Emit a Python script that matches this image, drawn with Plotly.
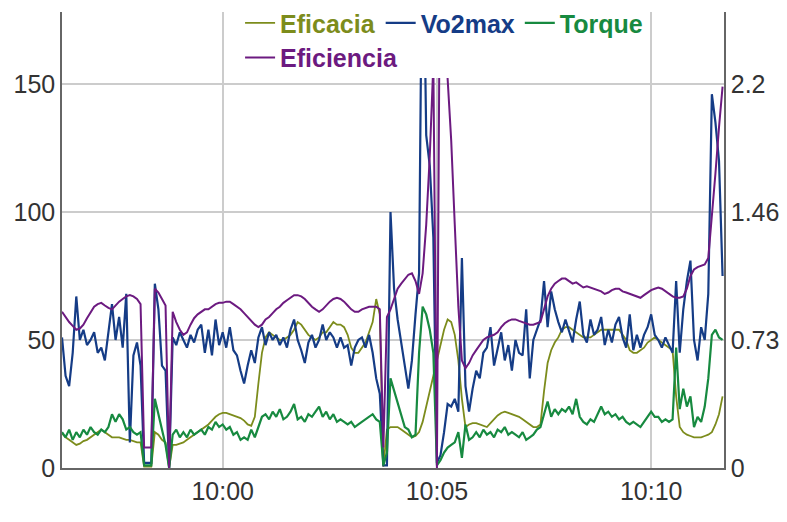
import pandas as pd
import plotly.graph_objects as go

# time axis: one sample every 5 seconds from 09:56:15
start_time = "2024-01-01 09:56:15"
n_points = 186
times = pd.date_range(start_time, periods=n_points, freq="5s")

eficacia = [
    13.5, 12, 11, 10, 9, 9.5, 10.5, 11, 12, 13,
    14, 15, 14, 13, 12, 12, 12, 11.5, 11, 11,
    10.5, 10, 10, 0.5, 0.5, 0.5, 14, 13, 11, 10,
    0, 9, 9, 9.5, 10, 11, 12, 13, 14, 15,
    16, 17, 18.5, 20, 21, 21.5, 21.5, 21, 20.5, 20,
    19.5, 18.5, 17, 16.5, 20, 33, 45, 51, 53, 52,
    51, 50, 50, 51, 52, 54, 57, 56, 54, 52,
    51, 50, 51, 53, 53, 55, 57, 56, 56, 55,
    52, 47, 45, 45, 47, 49, 53, 57, 66, 60,
    0.5, 15, 16, 16, 16, 15, 14, 13, 12, 12.5,
    14, 18, 24, 30, 36, 42, 48, 54, 58, 57,
    52, 42, 27, 16, 17, 17.5, 17.5, 17, 16.5, 16,
    17.5, 19, 20.5, 21.5, 22, 21.5, 21, 20.5, 20, 19,
    18, 17, 16, 16, 17, 30, 41, 46, 49, 51,
    54, 55, 55, 54, 53, 52, 51, 51, 51, 52,
    53, 54, 54, 54, 54, 54, 54, 52, 50, 46,
    45, 45, 46, 47, 49, 50, 51, 50, 49, 48,
    47, 46, 28, 16, 14, 13, 12.5, 12, 12, 12,
    12.5, 13, 14, 17, 21, 28,
]

vo2max = [
    51, 36, 32, 45, 67, 50, 54, 48, 50, 53,
    45, 47, 42, 52, 64, 50, 59, 47, 68, 10,
    44, 49, 40, 2, 2, 2, 72, 62, 40, 38,
    0, 51, 48, 53, 50, 47, 52, 49, 54, 56,
    45, 54, 44, 58, 48, 53, 47, 55, 46, 44,
    38, 33, 40, 46, 41, 51, 55, 48, 53, 50,
    52, 48, 51, 47, 54, 58, 50, 46, 41, 49,
    52, 47, 50, 56, 50, 53, 51, 47, 51, 47,
    48, 40, 47, 50, 51, 47, 52, 45, 35, 29,
    1, 1, 100, 70, 58, 48, 40, 31, 42, 60,
    76, 230, 130, 118, 90, 2, 5, 14, 25, 24,
    27, 22, 82, 32, 22, 31, 38, 35, 45, 47,
    55, 40, 46, 53, 42, 48, 38, 50, 45, 44,
    62, 35, 50, 54, 58, 73, 55, 69, 62, 57,
    53, 58, 53, 49, 58, 65, 52, 49, 58, 52,
    54, 59, 48, 54, 49, 56, 59, 51, 47, 60,
    46, 52, 47, 52, 55, 60, 52, 50, 47, 51,
    48, 45, 73, 45, 62, 73, 81, 50, 42, 55,
    50, 68, 146, 135, 120, 75,
]

torque = [
    14, 12, 15, 11, 14, 12, 15, 13, 16, 14,
    13, 15, 14, 16, 21, 18, 21, 19, 15, 16,
    14, 13, 14, 1, 1, 1, 27, 21, 16, 9,
    0, 13, 15, 12, 14, 12, 15, 13, 14, 15,
    13, 16, 15, 18, 16, 17, 15, 16, 13, 14,
    11, 12, 11, 15, 12, 16, 20, 21, 19, 22,
    20, 23, 19, 20, 22, 25, 19, 20, 18, 21,
    20, 22, 24, 20, 22, 19, 21, 18, 19, 18,
    17, 18, 16, 17, 18, 19, 20, 21, 19, 18,
    1, 6, 35, 30, 25, 20, 16, 15, 12, 13,
    45, 63, 60, 54, 45, 1, 3, 6, 8, 9,
    10, 14, 4, 17, 11, 12, 14, 12, 15, 13,
    14, 12, 15, 14, 16, 13, 14, 13, 12, 14,
    11, 12, 13, 15, 16, 21, 26, 20, 23, 21,
    23, 22, 24, 21, 27, 20, 18, 17, 19, 18,
    21, 24, 21, 22, 20, 21, 19, 20, 18, 17,
    18, 17, 16, 18, 20, 22, 20, 20, 18, 19,
    18, 19, 47, 23, 31, 24, 28, 16, 20, 18,
    24, 35, 52, 54, 51, 50,
]

eficiencia = [
    0.895, 0.865, 0.836, 0.814, 0.792, 0.799, 0.821, 0.858, 0.895, 0.924,
    0.939, 0.946, 0.931, 0.917, 0.909, 0.931, 0.953, 0.968, 0.983, 0.990,
    0.983, 0.968, 0.939, 0.117, 0.117, 0.117, 1.027, 1.005, 0.968, 0.931,
    0, 0.895, 0.836, 0.792, 0.763, 0.777, 0.821, 0.858, 0.880, 0.895,
    0.909, 0.909, 0.924, 0.939, 0.946, 0.946, 0.953, 0.953, 0.939, 0.924,
    0.909, 0.887, 0.865, 0.843, 0.821, 0.807, 0.821, 0.851, 0.865, 0.887,
    0.909, 0.924, 0.946, 0.961, 0.975, 0.990, 0.990, 0.983, 0.968, 0.946,
    0.924, 0.909, 0.895, 0.909, 0.931, 0.953, 0.968, 0.975, 0.968, 0.953,
    0.931, 0.909, 0.895, 0.895, 0.909, 0.917, 0.924, 0.924, 0.924, 0.909,
    0.117, 0.865, 0.909, 0.968, 1.027, 1.056, 1.085, 1.107, 1.115, 1.071,
    0.997, 1.115, 1.393, 1.789, 2.317, 0, 3.52, 2.787, 2.229, 1.877,
    1.393, 0.924, 0.616, 0.572, 0.601, 0.645, 0.675, 0.704, 0.733, 0.748,
    0.755, 0.763, 0.777, 0.807, 0.829, 0.843, 0.851, 0.851, 0.843, 0.836,
    0.829, 0.821, 0.821, 0.829, 0.836, 0.909, 0.983, 1.027, 1.056, 1.071,
    1.085, 1.085, 1.071, 1.056, 1.063, 1.049, 1.034, 1.041, 1.034, 1.027,
    1.019, 1.012, 0.997, 1.005, 1.019, 1.027, 1.027, 1.012, 1.005, 0.997,
    0.990, 0.983, 0.975, 0.990, 1.005, 1.019, 1.027, 1.034, 1.027, 1.012,
    0.997, 0.983, 0.975, 0.975, 0.983, 1.027, 1.100, 1.137, 1.151, 1.159,
    1.166, 1.203, 1.423, 1.687, 1.951, 2.185,
]

assert len(eficacia) == len(vo2max) == len(torque) == len(eficiencia) == n_points

left_ticks = [0, 50, 100, 150]
right_tickvals = [0, 0.7333, 1.4667, 2.2]
right_ticktext = ["0", "0.73", "1.46", "2.2"]

colors = {
    "Eficacia": "#7c8c1c",
    "Vo2max": "#153c86",
    "Torque": "#178a40",
    "Eficiencia": "#6c1a80",
}

FONT = "Liberation Sans, Arial, sans-serif"
LEG_SIZE = 25
TICK_SIZE = 25


def legend_name(name, extra=""):
    return f"<b><span style='color:{colors[name]}'>{name}</span></b>{extra}"


fig = go.Figure()
fig.add_trace(go.Scatter(x=times, y=eficacia, mode="lines", name=legend_name("Eficacia"),
                         line=dict(color=colors["Eficacia"], width=1.8), legend="legend"))
fig.add_trace(go.Scatter(x=times, y=vo2max, mode="lines", name=legend_name("Vo2max", "<br> "),
                         line=dict(color=colors["Vo2max"], width=2.2), legend="legend"))
fig.add_trace(go.Scatter(x=times, y=torque, mode="lines", name=legend_name("Torque"),
                         line=dict(color=colors["Torque"], width=2.2), legend="legend"))
fig.add_trace(go.Scatter(x=times, y=eficiencia, mode="lines", name=legend_name("Eficiencia"),
                         line=dict(color=colors["Eficiencia"], width=2), yaxis="y2",
                         legend="legend2"))

common_legend = dict(
    orientation="h", xanchor="left", yanchor="top",
    borderwidth=0, itemwidth=30, valign="top",
    font=dict(family=FONT, size=LEG_SIZE),
    traceorder="normal",
)

fig.update_layout(
    width=787, height=522,
    margin=dict(l=62, r=63, t=12, b=54, autoexpand=False),
    paper_bgcolor="white", plot_bgcolor="white",
    font=dict(family=FONT, size=TICK_SIZE, color="#333333"),
    showlegend=True,
    legend=dict(common_legend, x=0.269, y=1.026, bgcolor="white"),
    legend2=dict(common_legend, x=0.269, y=0.95, bgcolor="rgba(0,0,0,0)"),
    xaxis=dict(
        type="date",
        range=["2024-01-01 09:56:15", "2024-01-01 10:11:42"],
        tick0="2024-01-01 10:00:00", dtick=300000, tickformat="%H:%M",
        showgrid=True, gridcolor="#cccccc", gridwidth=1.5,
        showline=True, linecolor="#666666", linewidth=1.5,
        ticks="", zeroline=False, automargin=False,
        ticklabelstandoff=0,
    ),
    yaxis=dict(
        range=[0, 178.1], tickvals=left_ticks,
        showgrid=True, gridcolor="#cccccc", gridwidth=1.5,
        showline=True, linecolor="#666666", linewidth=1.5,
        ticks="", zeroline=False, automargin=False,
        ticklabelstandoff=0,
    ),
    yaxis2=dict(
        overlaying="y", side="right",
        range=[0, 2.612], tickvals=right_tickvals, ticktext=right_ticktext,
        showgrid=False,
        showline=True, linecolor="#666666", linewidth=1.5,
        ticks="", zeroline=False, automargin=False,
        ticklabelstandoff=0,
    ),
)

fig.write_html(
    "out.html",
    config={"displayModeBar": False},
    post_script="document.body.style.margin='0';document.body.style.overflow='hidden';",
)
